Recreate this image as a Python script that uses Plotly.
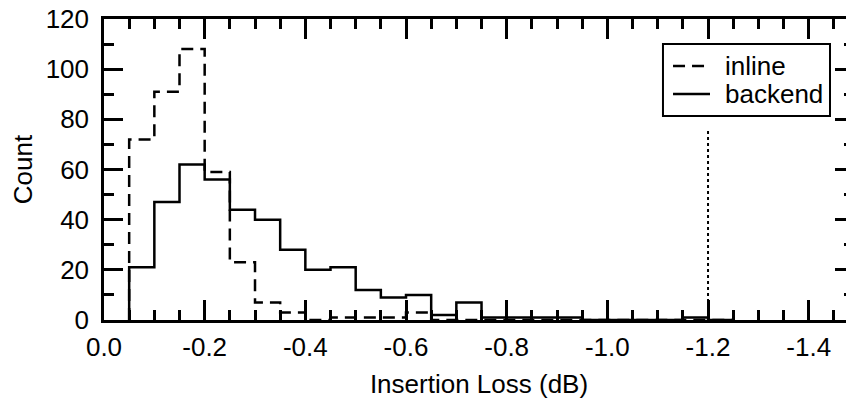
import plotly.graph_objects as go

# ---- data ----
bin_edges = [-0.05, -0.10, -0.15, -0.20, -0.25, -0.30, -0.35, -0.40, -0.45, -0.50,
             -0.55, -0.60, -0.65, -0.70, -0.75, -0.80, -0.85, -0.90, -0.95, -1.00,
             -1.05, -1.10, -1.15, -1.20, -1.25]
inline_counts = [72, 91, 108, 59, 23, 7, 3, 0, 1, 1, 1, 3, 0, 0, 0, 0, 0, 0, 0, 0, 0, 0, 0, 0]
backend_counts = [21, 47, 62, 56, 44, 40, 28, 20, 21, 12, 9, 10, 2, 7, 1, 1, 1, 1, 0, 0, 0, 0, 1, 0]

series_names = ["inline", "backend"]
series_dash = ["12px,7px", "solid"]

x_tick_vals = [0.0, -0.2, -0.4, -0.6, -0.8, -1.0, -1.2, -1.4]
x_tick_text = ["0.0", "-0.2", "-0.4", "-0.6", "-0.8", "-1.0", "-1.2", "-1.4"]
y_tick_vals = [0, 20, 40, 60, 80, 100, 120]

spec_x = [-1.2, -1.2]
spec_y = [0, 76]

FONT = "Liberation Sans, Arial, Helvetica, sans-serif"
FS = 26
LW = 2.5


def step_xy(edges, counts):
    xs = [edges[0]]
    ys = [0]
    for i, c in enumerate(counts):
        xs.append(edges[i])
        ys.append(c)
    xs.append(edges[len(counts)])
    ys.append(0)
    return xs, ys


fig = go.Figure()

for name, counts, dash in zip(series_names, [inline_counts, backend_counts], series_dash):
    xs, ys = step_xy(bin_edges, counts)
    fig.add_trace(go.Scatter(x=xs, y=ys, mode="lines", name=name, showlegend=False,
                             line=dict(color="black", width=LW, dash=dash, shape="hv")))

fig.add_trace(go.Scatter(x=spec_x, y=spec_y, mode="lines", showlegend=False,
                         line=dict(color="black", width=2, dash="dot")))

axis_common = dict(
    showline=True, linecolor="black", linewidth=2.5, mirror="ticks",
    ticks="inside", tickcolor="black", tickwidth=2.5,
    showgrid=False, zeroline=False, automargin=False,
    ticklabeloverflow="allow",
    tickfont=dict(family=FONT, size=FS, color="black"),
)

fig.update_xaxes(
    **axis_common,
    range=[0, -1.49],
    tickmode="array", tickvals=x_tick_vals, ticktext=x_tick_text,
    ticklen=20,
    minor=dict(dtick=0.05, ticks="inside", ticklen=10, tickcolor="black", tickwidth=2.5, showgrid=False),
    title=dict(text="Insertion Loss (dB)", font=dict(family=FONT, size=FS, color="black"), standoff=14),
    ticklabelstandoff=2,
)
fig.update_yaxes(
    **axis_common,
    range=[0, 120],
    tickmode="array", tickvals=y_tick_vals,
    ticklen=19,
    minor=dict(dtick=10, ticks="inside", ticklen=10, tickcolor="black", tickwidth=2.5, showgrid=False),
    title=dict(text="Count", font=dict(family=FONT, size=FS, color="black"), standoff=6),
    ticklabelstandoff=7,
)

# ---- legend box drawn in paper coordinates ----
box_x0, box_x1, box_y0, box_y1 = 0.7453, 0.968, 0.678, 0.917
row_y = [0.844, 0.751]
sample_x0, sample_x1, text_x = 0.7587, 0.808, 0.8253

shapes = [dict(type="rect", xref="paper", yref="paper", x0=box_x0, x1=box_x1, y0=box_y0, y1=box_y1,
               line=dict(color="black", width=2), fillcolor="white", layer="above")]
annotations = []
for name, dash, yy in zip(series_names, series_dash, row_y):
    shapes.append(dict(type="line", xref="paper", yref="paper", x0=sample_x0, x1=sample_x1, y0=yy, y1=yy,
                       line=dict(color="black", width=LW, dash=dash), layer="above"))
    annotations.append(dict(xref="paper", yref="paper", x=text_x, y=yy, text=name, showarrow=False,
                            xanchor="left", yanchor="middle",
                            font=dict(family=FONT, size=FS, color="black")))

fig.update_layout(
    width=846, height=393,
    margin=dict(l=96, r=0, t=11, b=81, autoexpand=False),
    paper_bgcolor="white", plot_bgcolor="white",
    font=dict(family=FONT, size=FS, color="black"),
    shapes=shapes, annotations=annotations,
    showlegend=False,
)

fig.write_html("out.html")
